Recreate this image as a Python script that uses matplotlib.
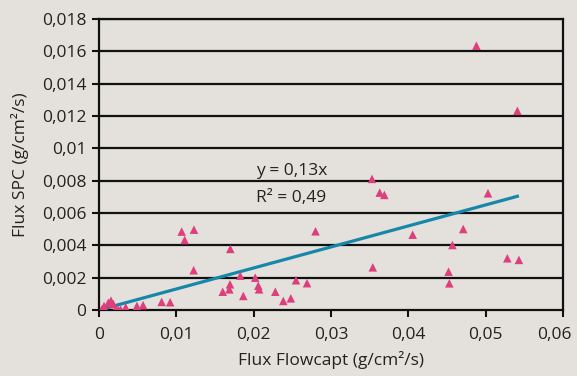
import matplotlib
matplotlib.use("Agg")
import matplotlib.pyplot as plt
import matplotlib.transforms as mtransforms
import numpy as np

plt.rcParams['font.family'] = ['Open Sans', 'DejaVu Sans']

# Data
flux_flowcapt = [0.00035, 0.00065, 0.0012, 0.00155, 0.00185, 0.0021, 0.0025, 0.0028,
                 0.00345, 0.0049, 0.0057, 0.0081, 0.0092,
                 0.01069, 0.01228, 0.01108, 0.01698, 0.01224, 0.01827, 0.0202,
                 0.0206, 0.0207, 0.01694, 0.01685, 0.0160, 0.01866, 0.0228,
                 0.02383, 0.0248, 0.02547, 0.02690, 0.0280,
                 0.0353, 0.0363, 0.0369, 0.04056, 0.0354,
                 0.0488, 0.0541, 0.0503, 0.0471, 0.0457, 0.0528, 0.0543, 0.0452, 0.0453]
flux_spc = [0.00004, 0.00025, 0.00045, 0.00058, 0.00037, 0.00002, 0.00002, 0.00002,
            0.00017, 0.00025, 0.0003, 0.0005, 0.00048,
            0.00485, 0.00497, 0.00433, 0.00378, 0.00246, 0.00212, 0.0020,
            0.0015, 0.00128, 0.00159, 0.00128, 0.00113, 0.00087, 0.00113,
            0.00056, 0.00072, 0.00184, 0.00166, 0.00487,
            0.00811, 0.00726, 0.00712, 0.00466, 0.00264,
            0.01635, 0.01232, 0.00722, 0.00501, 0.00402, 0.0032, 0.0031, 0.00237, 0.00165]
slope = 0.13
fit_label = "y = 0,13x"
r2_label = "R² = 0,49"
x_ticks = [0, 0.01, 0.02, 0.03, 0.04, 0.05, 0.06]
x_ticklabels = ['0', '0,01', '0,02', '0,03', '0,04', '0,05', '0,06']
y_ticks = [0, 0.002, 0.004, 0.006, 0.008, 0.01, 0.012, 0.014, 0.016, 0.018]
y_ticklabels = ['0', '0,002', '0,004', '0,006', '0,008', '0,01', '0,012', '0,014', '0,016', '0,018']

bg = '#e4e1dc'
txt = '#222222'
fig = plt.figure(figsize=(5.77, 3.76), dpi=100, facecolor=bg)
ax = fig.add_axes([99/577, 66/376, 464/577, 291/376], facecolor=bg)

for yv in y_ticks[1:]:
    ax.axhline(yv, color='#111111', lw=1.6, zorder=1)

xfit = np.array([0, max(flux_flowcapt)])
ax.plot(xfit, slope * xfit, color='#1787a9', lw=2.3, zorder=2, solid_capstyle='butt')
ax.scatter(flux_flowcapt, flux_spc, marker='^', s=38, color='#de3f7c', edgecolors='none', zorder=3)

ax.set_xlim(0, 0.06)
ax.set_ylim(0, 0.018)
ax.set_xticks(x_ticks)
ax.set_xticklabels(x_ticklabels)
ax.set_yticks(y_ticks)
ax.set_yticklabels(y_ticklabels)
ax.tick_params(axis='both', direction='out', length=5, width=1.5, color='#111111',
               labelsize=12.5, labelcolor=txt, pad=4)
ax.tick_params(axis='x', pad=7)
for s in ax.spines.values():
    s.set_color('#111111')
    s.set_linewidth(1.6)

# keep the last x label inside the figure, as in the reference
last = ax.get_xticklabels()[-1]
last.set_transform(last.get_transform() + mtransforms.ScaledTranslation(-9/100, 0, fig.dpi_scale_trans))

ax.set_xlabel("Flux Flowcapt (g/cm²/s)", fontsize=12.5, color=txt, labelpad=6)
ax.set_ylabel("Flux SPC (g/cm²/s)", fontsize=12.5, color=txt, labelpad=9)

ax.text(0.0203, 0.0086, fit_label, fontsize=12.5, color=txt, va='center', ha='left')
ax.text(0.0203, 0.0069, r2_label, fontsize=12.5, color=txt, va='center', ha='left')

fig.savefig('out.png', dpi=100, facecolor=bg)
